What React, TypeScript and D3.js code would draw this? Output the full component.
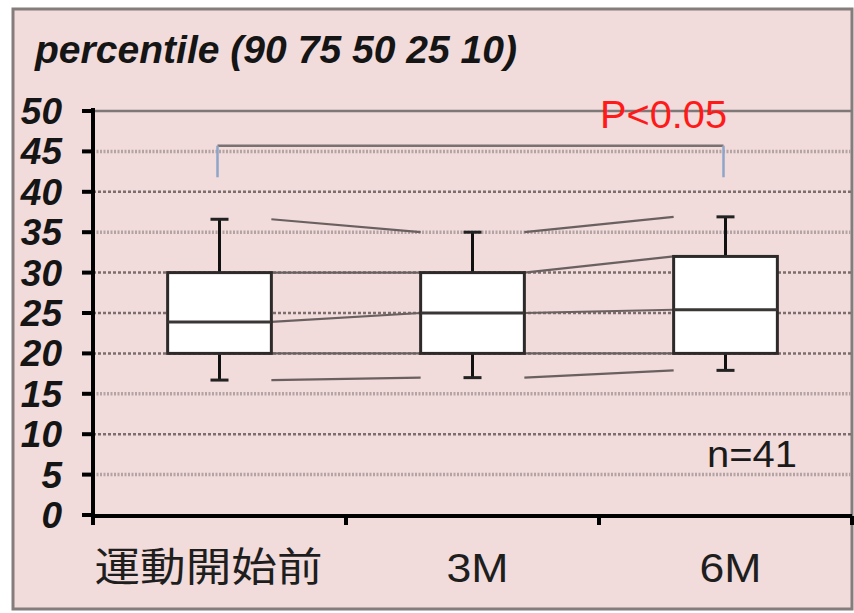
import React from "react";
import * as d3 from "d3";

const categories = ["運動開始前", "3M", "6M"];
const p90 = [36.6, 35.0, 36.9];
const p75 = [30.0, 30.0, 32.0];
const p50 = [23.9, 25.0, 25.4];
const p25 = [20.0, 20.0, 20.0];
const p10 = [16.7, 17.0, 17.9];
const yTicks = [0, 5, 10, 15, 20, 25, 30, 35, 40, 45, 50];
const lightGrid = [5, 15, 35, 45];
const titleText = "percentile (90 75 50 25 10)";
const sigText = "P<0.05";
const nText = "n=41";
const bracketTop = 45.7;
const bracketDrop = 41.8;

const W = 854;
const H = 613;

export default function App() {
  const x = d3.scaleBand<string>().domain(categories).range([93, 852]).paddingInner(0).paddingOuter(0);
  const y = d3.scaleLinear().domain([0, 50]).range([515, 111]);
  const bw = x.bandwidth();
  const boxW = bw * 0.41;
  const cx = (c: string) => (x(c) as number) + bw / 2;
  const capW = 18;
  const series = [p90, p75, p50, p25, p10];

  return (
    <svg width={W} height={H} style={{ position: "absolute", left: 0, top: 0, display: "block" }}>
      <rect x={0} y={0} width={W} height={H} fill="#ffffff" />
      <rect x={13} y={9} width={839} height={600} fill="#f1dbdb" stroke="#857c7c" strokeWidth={3} />
      <text x={35} y={63} fontFamily="Liberation Sans, Arial, sans-serif" fontWeight="bold" fontStyle="italic" fontSize={38} textLength={482} lengthAdjust="spacingAndGlyphs" fill="#151515">{titleText}</text>

      {/* gridlines */}
      {yTicks.filter(t => t > 0 && t < 50).map(t => {
        const light = lightGrid.includes(t);
        return (
          <line key={"g" + t} x1={93} x2={852} y1={y(t)} y2={y(t)}
            stroke={light ? "#b3a3a3" : "#7c6e6e"} strokeWidth={light ? 3.5 : 2.5}
            strokeDasharray={light ? "2,1.5" : "3,2"} />
        );
      })}
      <line x1={93} x2={852} y1={y(50)} y2={y(50)} stroke="#7e7878" strokeWidth={2.5} />

      {/* connecting lines between boxes */}
      {categories.slice(0, -1).map((c, i) => {
        const next = categories[i + 1];
        const x1 = cx(c) + boxW / 2;
        const x2 = cx(next) - boxW / 2;
        return series.map((s, k) => (
          <line key={"c" + i + "-" + k} x1={x1} x2={x2} y1={y(s[i])} y2={y(s[i + 1])} stroke="#6a6060" strokeWidth={2.2} />
        ));
      })}

      {/* boxes */}
      {categories.map((c, i) => {
        const xc = cx(c);
        return (
          <g key={"b" + i}>
            <line x1={xc} x2={xc} y1={y(p75[i])} y2={y(p90[i])} stroke="#111" strokeWidth={3} />
            <line x1={xc - capW / 2} x2={xc + capW / 2} y1={y(p90[i])} y2={y(p90[i])} stroke="#222" strokeWidth={3} />
            <line x1={xc} x2={xc} y1={y(p25[i])} y2={y(p10[i])} stroke="#111" strokeWidth={3} />
            <line x1={xc - capW / 2} x2={xc + capW / 2} y1={y(p10[i])} y2={y(p10[i])} stroke="#222" strokeWidth={3} />
            <rect x={xc - boxW / 2} y={y(p75[i])} width={boxW} height={y(p25[i]) - y(p75[i])} fill="#ffffff" stroke="#2e2a2a" strokeWidth={3} />
            <line x1={xc - boxW / 2} x2={xc + boxW / 2} y1={y(p50[i])} y2={y(p50[i])} stroke="#3a3636" strokeWidth={3} />
          </g>
        );
      })}

      {/* significance bracket */}
      <line x1={cx(categories[0]) - 2} x2={cx(categories[2]) - 2} y1={y(bracketTop)} y2={y(bracketTop)} stroke="#7a7272" strokeWidth={2.5} />
      <line x1={cx(categories[0]) - 2} x2={cx(categories[0]) - 2} y1={y(bracketTop)} y2={y(bracketDrop)} stroke="#8ea4c8" strokeWidth={2.5} />
      <line x1={cx(categories[2]) - 2} x2={cx(categories[2]) - 2} y1={y(bracketTop)} y2={y(bracketDrop)} stroke="#8ea4c8" strokeWidth={2.5} />
      <text x={600} y={128} fontFamily="Liberation Sans, Arial, sans-serif" fontSize={39} textLength={127} lengthAdjust="spacingAndGlyphs" fill="#ff1a1a">{sigText}</text>

      <text x={707} y={467} fontFamily="Liberation Sans, Arial, sans-serif" fontSize={36} textLength={90} lengthAdjust="spacingAndGlyphs" fill="#1a1a1a">{nText}</text>

      {/* y axis */}
      <line x1={93} x2={93} y1={y(50) - 3} y2={525} stroke="#000" strokeWidth={4} />
      {yTicks.map(t => (
        <g key={"t" + t}>
          <line x1={82} x2={93} y1={y(t)} y2={y(t)} stroke="#000" strokeWidth={4} />
          <text x={62} y={y(t) + 13} textAnchor="end" fontFamily="Liberation Sans, Arial, sans-serif" fontWeight="bold" fontStyle="italic" fontSize={37} fill="#151515">{t}</text>
        </g>
      ))}

      {/* x axis */}
      <line x1={91} x2={852} y1={516} y2={516} stroke="#000" strokeWidth={4} />
      {[...categories.map(c => x(c) as number), 852].map((v, i) => (
        <line key={"xt" + i} x1={v} x2={v} y1={516} y2={525} stroke="#000" strokeWidth={4} />
      ))}
      {categories.map((c, i) => (
        i === 0 ? (
          <text key={"xl" + i} x={cx(c) - 11} y={581} textAnchor="middle" fontFamily="Noto Sans CJK JP, sans-serif" fontSize={40} textLength={228} lengthAdjust="spacingAndGlyphs" fill="#1e1e1e">{c}</text>
        ) : (
          <text key={"xl" + i} x={cx(c) + 5} y={582} textAnchor="middle" fontFamily="Liberation Sans, Arial, sans-serif" fontSize={40} textLength={62} lengthAdjust="spacingAndGlyphs" fill="#1e1e1e">{c}</text>
        )
      ))}
    </svg>
  );
}
